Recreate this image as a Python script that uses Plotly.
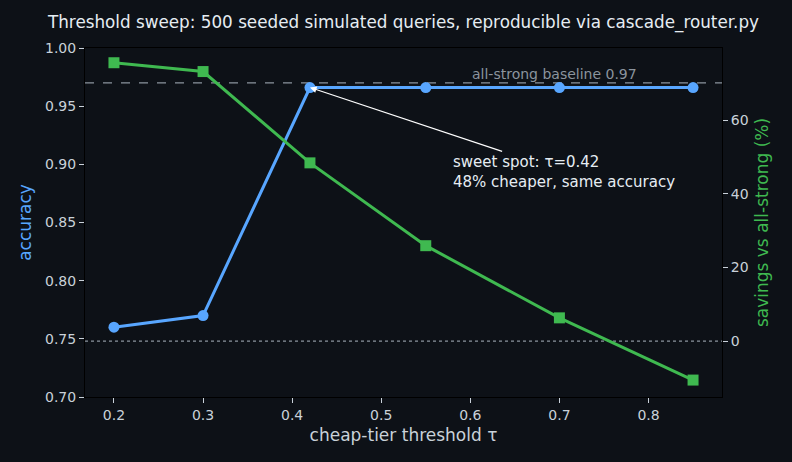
"""
Cascade router threshold sweep: accuracy and savings vs cheap-tier threshold.
"""

import plotly.graph_objects as go

THRESHOLDS = [0.2, 0.3, 0.42, 0.55, 0.7, 0.85]
ACCURACY = [0.760, 0.770, 0.966, 0.966, 0.966, 0.966]
SAVINGS_PCT = [75.6, 73.2, 48.4, 25.9, 6.3, -10.6]
BASELINE_ACC = 0.97
SWEET_SPOT = 0.42

BG = "#0d1117"
TXT = "#c9d1d9"
BLUE = "#58a6ff"
GREEN = "#3fb950"
GRAY = "#8b949e"
FONT = "DejaVu Sans"


def build_fig():
    acc_trace = go.Scatter(
        x=THRESHOLDS,
        y=ACCURACY,
        mode="lines+markers",
        line=dict(color=BLUE, width=3),
        marker=dict(symbol="circle", size=11, color=BLUE),
        name="accuracy",
        yaxis="y",
    )
    sav_trace = go.Scatter(
        x=THRESHOLDS,
        y=SAVINGS_PCT,
        mode="lines+markers",
        line=dict(color=GREEN, width=3),
        marker=dict(symbol="square", size=11, color=GREEN),
        name="savings",
        yaxis="y2",
    )

    fig = go.Figure(data=[acc_trace, sav_trace])

    # baseline (accuracy axis) and zero-savings (savings axis) reference lines
    fig.add_shape(
        type="line", xref="paper", x0=0, x1=1, yref="y", y0=BASELINE_ACC, y1=BASELINE_ACC,
        line=dict(color=GRAY, width=1.3, dash="dash"), layer="below",
    )
    fig.add_shape(
        type="line", xref="paper", x0=0, x1=1, yref="y2", y0=0, y1=0,
        line=dict(color=GRAY, width=1.3, dash="dot"), layer="below",
    )

    fig.add_annotation(
        x=0.694, y=BASELINE_ACC, xref="x", yref="y",
        text="all-strong baseline 0.97", showarrow=False,
        yanchor="bottom", yshift=-1,
        font=dict(family=FONT, size=14, color=GRAY),
    )

    sweet_idx = THRESHOLDS.index(SWEET_SPOT)
    fig.add_annotation(
        x=SWEET_SPOT, y=ACCURACY[sweet_idx], xref="x", yref="y",
        ax=0.705, ay=0.8935, axref="x", ayref="y",
        text=f"sweet spot: τ={SWEET_SPOT}<br>{SAVINGS_PCT[sweet_idx]:.0f}% cheaper, same accuracy",
        align="left", showarrow=True,
        arrowhead=2, arrowsize=1.2, arrowwidth=1.1, arrowcolor="white",
        font=dict(family=FONT, size=15, color="#e6edf3"),
    )

    axis_common = dict(
        showgrid=False, zeroline=False,
        ticks="outside", ticklen=5, tickcolor=TXT,
        tickfont=dict(family=FONT, size=14, color=TXT),
        showline=True, linecolor="#000000", linewidth=1,
    )

    fig.update_layout(
        width=792, height=462,
        title=dict(
            text="Threshold sweep: 500 seeded simulated queries, reproducible via cascade_router.py",
            xref="paper", x=0.5, xanchor="center", y=0.952, yanchor="middle",
            font=dict(family=FONT, size=16.8, color="#e6edf3"),
        ),
        showlegend=False,
        paper_bgcolor=BG,
        plot_bgcolor=BG,
        margin=dict(l=85, r=70, t=48, b=65),
        xaxis=dict(
            **axis_common,
            range=[0.1675, 0.8825],
            tickvals=[0.2, 0.3, 0.4, 0.5, 0.6, 0.7, 0.8],
            tickformat=".1f",
            mirror=True,
            title=dict(text="cheap-tier threshold τ", font=dict(family=FONT, size=17, color=TXT), standoff=7),
        ),
        yaxis=dict(
            **axis_common,
            range=[0.70, 1.00],
            tickvals=[0.70, 0.75, 0.80, 0.85, 0.90, 0.95, 1.00],
            tickformat=".2f",
            title=dict(text="accuracy", font=dict(family=FONT, size=17, color=BLUE), standoff=9),
        ),
        yaxis2=dict(
            **axis_common,
            overlaying="y",
            side="right",
            range=[-15.2, 79.6],
            tickvals=[0, 20, 40, 60],
            title=dict(text="savings vs all-strong (%)", font=dict(family=FONT, size=17, color=GREEN), standoff=8),
        ),
    )
    return fig


fig = build_fig()
# drop the default page margin so the figure fills the window edge to edge
fig.write_html(
    "out.html",
    config={"displayModeBar": False},
    post_script="document.body.style.margin='0';document.body.style.background='#0d1117';",
)
